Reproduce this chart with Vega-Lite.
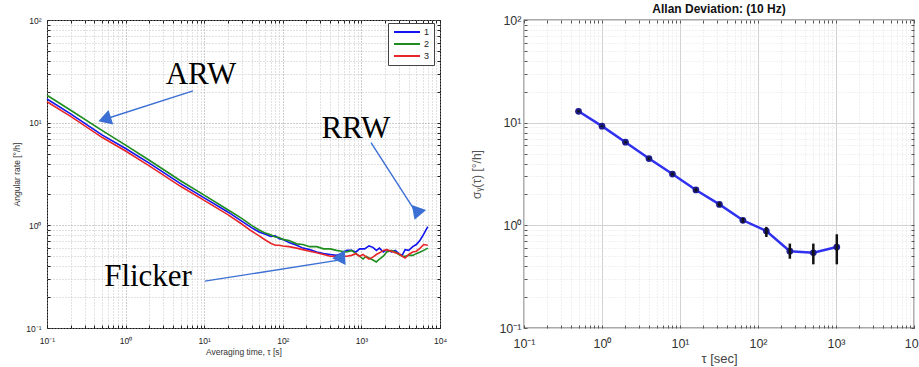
{
  "$schema": "https://vega.github.io/schema/vega-lite/v6.json",
  "background": "white",
  "padding": {"left": 12, "top": 2, "right": 1, "bottom": 0},
  "bounds": "flush",
  "spacing": 84,
  "config": {"font": "Liberation Sans", "view": {"stroke": null}},
  "datasets": {
    "curves": [
      {"tau": 0.1, "v": 17, "s": "1"}, {"tau": 0.2, "v": 12.2, "s": "1"}, {"tau": 0.5, "v": 7.6, "s": "1"}, {"tau": 1, "v": 5.6, "s": "1"}, {"tau": 2, "v": 4.04, "s": "1"}, {"tau": 5, "v": 2.55, "s": "1"}, {"tau": 10, "v": 1.85, "s": "1"}, {"tau": 20, "v": 1.35, "s": "1"}, {"tau": 30, "v": 1.1, "s": "1"}, {"tau": 40, "v": 0.95, "s": "1"}, {"tau": 50, "v": 0.86, "s": "1"}, {"tau": 60, "v": 0.82, "s": "1"}, {"tau": 70, "v": 0.78, "s": "1"}, {"tau": 80, "v": 0.79, "s": "1"}, {"tau": 90, "v": 0.74, "s": "1"}, {"tau": 100, "v": 0.73, "s": "1"}, {"tau": 120, "v": 0.68, "s": "1"}, {"tau": 150, "v": 0.64, "s": "1"}, {"tau": 180, "v": 0.6, "s": "1"}, {"tau": 220, "v": 0.58, "s": "1"}, {"tau": 270, "v": 0.55, "s": "1"}, {"tau": 330, "v": 0.53, "s": "1"}, {"tau": 400, "v": 0.52, "s": "1"}, {"tau": 480, "v": 0.51, "s": "1"}, {"tau": 560, "v": 0.53, "s": "1"}, {"tau": 650, "v": 0.57, "s": "1"}, {"tau": 750, "v": 0.57, "s": "1"}, {"tau": 850, "v": 0.55, "s": "1"}, {"tau": 950, "v": 0.59, "s": "1"}, {"tau": 1100, "v": 0.59, "s": "1"}, {"tau": 1250, "v": 0.63, "s": "1"}, {"tau": 1400, "v": 0.61, "s": "1"}, {"tau": 1550, "v": 0.57, "s": "1"}, {"tau": 1700, "v": 0.6, "s": "1"}, {"tau": 1900, "v": 0.55, "s": "1"}, {"tau": 2100, "v": 0.58, "s": "1"}, {"tau": 2400, "v": 0.55, "s": "1"}, {"tau": 2700, "v": 0.57, "s": "1"}, {"tau": 3000, "v": 0.53, "s": "1"}, {"tau": 3300, "v": 0.51, "s": "1"}, {"tau": 3600, "v": 0.58, "s": "1"}, {"tau": 4000, "v": 0.57, "s": "1"}, {"tau": 4500, "v": 0.62, "s": "1"}, {"tau": 5000, "v": 0.65, "s": "1"}, {"tau": 5600, "v": 0.72, "s": "1"}, {"tau": 6200, "v": 0.82, "s": "1"}, {"tau": 7000, "v": 0.97, "s": "1"},
      {"tau": 0.1, "v": 18.5, "s": "2"}, {"tau": 0.2, "v": 13.2, "s": "2"}, {"tau": 0.5, "v": 8.4, "s": "2"}, {"tau": 1, "v": 6.04, "s": "2"}, {"tau": 2, "v": 4.3, "s": "2"}, {"tau": 5, "v": 2.72, "s": "2"}, {"tau": 10, "v": 1.97, "s": "2"}, {"tau": 20, "v": 1.42, "s": "2"}, {"tau": 30, "v": 1.17, "s": "2"}, {"tau": 40, "v": 1.0, "s": "2"}, {"tau": 50, "v": 0.9, "s": "2"}, {"tau": 60, "v": 0.84, "s": "2"}, {"tau": 70, "v": 0.81, "s": "2"}, {"tau": 80, "v": 0.77, "s": "2"}, {"tau": 90, "v": 0.76, "s": "2"}, {"tau": 100, "v": 0.73, "s": "2"}, {"tau": 120, "v": 0.71, "s": "2"}, {"tau": 150, "v": 0.66, "s": "2"}, {"tau": 180, "v": 0.65, "s": "2"}, {"tau": 220, "v": 0.62, "s": "2"}, {"tau": 270, "v": 0.62, "s": "2"}, {"tau": 330, "v": 0.59, "s": "2"}, {"tau": 400, "v": 0.59, "s": "2"}, {"tau": 480, "v": 0.57, "s": "2"}, {"tau": 560, "v": 0.56, "s": "2"}, {"tau": 650, "v": 0.55, "s": "2"}, {"tau": 750, "v": 0.57, "s": "2"}, {"tau": 850, "v": 0.53, "s": "2"}, {"tau": 950, "v": 0.5, "s": "2"}, {"tau": 1050, "v": 0.47, "s": "2"}, {"tau": 1150, "v": 0.5, "s": "2"}, {"tau": 1250, "v": 0.48, "s": "2"}, {"tau": 1400, "v": 0.46, "s": "2"}, {"tau": 1550, "v": 0.44, "s": "2"}, {"tau": 1700, "v": 0.47, "s": "2"}, {"tau": 1900, "v": 0.5, "s": "2"}, {"tau": 2100, "v": 0.55, "s": "2"}, {"tau": 2400, "v": 0.57, "s": "2"}, {"tau": 2700, "v": 0.55, "s": "2"}, {"tau": 3000, "v": 0.52, "s": "2"}, {"tau": 3300, "v": 0.5, "s": "2"}, {"tau": 3600, "v": 0.5, "s": "2"}, {"tau": 4000, "v": 0.51, "s": "2"}, {"tau": 4500, "v": 0.51, "s": "2"}, {"tau": 5000, "v": 0.53, "s": "2"}, {"tau": 5600, "v": 0.55, "s": "2"}, {"tau": 6200, "v": 0.57, "s": "2"}, {"tau": 7000, "v": 0.6, "s": "2"},
      {"tau": 0.1, "v": 16, "s": "3"}, {"tau": 0.2, "v": 11.5, "s": "3"}, {"tau": 0.5, "v": 7.2, "s": "3"}, {"tau": 1, "v": 5.3, "s": "3"}, {"tau": 2, "v": 3.8, "s": "3"}, {"tau": 5, "v": 2.4, "s": "3"}, {"tau": 10, "v": 1.75, "s": "3"}, {"tau": 20, "v": 1.27, "s": "3"}, {"tau": 30, "v": 1.03, "s": "3"}, {"tau": 40, "v": 0.88, "s": "3"}, {"tau": 50, "v": 0.79, "s": "3"}, {"tau": 60, "v": 0.72, "s": "3"}, {"tau": 70, "v": 0.67, "s": "3"}, {"tau": 80, "v": 0.64, "s": "3"}, {"tau": 90, "v": 0.64, "s": "3"}, {"tau": 100, "v": 0.63, "s": "3"}, {"tau": 120, "v": 0.62, "s": "3"}, {"tau": 150, "v": 0.6, "s": "3"}, {"tau": 180, "v": 0.58, "s": "3"}, {"tau": 220, "v": 0.56, "s": "3"}, {"tau": 270, "v": 0.54, "s": "3"}, {"tau": 330, "v": 0.52, "s": "3"}, {"tau": 400, "v": 0.5, "s": "3"}, {"tau": 480, "v": 0.5, "s": "3"}, {"tau": 560, "v": 0.5, "s": "3"}, {"tau": 650, "v": 0.5, "s": "3"}, {"tau": 750, "v": 0.51, "s": "3"}, {"tau": 850, "v": 0.53, "s": "3"}, {"tau": 950, "v": 0.5, "s": "3"}, {"tau": 1050, "v": 0.52, "s": "3"}, {"tau": 1150, "v": 0.49, "s": "3"}, {"tau": 1250, "v": 0.47, "s": "3"}, {"tau": 1400, "v": 0.49, "s": "3"}, {"tau": 1550, "v": 0.52, "s": "3"}, {"tau": 1700, "v": 0.54, "s": "3"}, {"tau": 1900, "v": 0.57, "s": "3"}, {"tau": 2100, "v": 0.58, "s": "3"}, {"tau": 2400, "v": 0.56, "s": "3"}, {"tau": 2700, "v": 0.54, "s": "3"}, {"tau": 3000, "v": 0.53, "s": "3"}, {"tau": 3300, "v": 0.5, "s": "3"}, {"tau": 3600, "v": 0.48, "s": "3"}, {"tau": 4000, "v": 0.52, "s": "3"}, {"tau": 4500, "v": 0.55, "s": "3"}, {"tau": 5000, "v": 0.56, "s": "3"}, {"tau": 5600, "v": 0.6, "s": "3"}, {"tau": 6200, "v": 0.65, "s": "3"}, {"tau": 7000, "v": 0.64, "s": "3"}
    ],
    "arrows": [
      {"name": "ARW", "x1": 7.2, "y1": 20.4, "x2": 0.541, "y2": 10.8},
      {"name": "RRW", "x1": 1325, "y1": 6.4, "x2": 5060, "y2": 1.3},
      {"name": "Flicker", "x1": 10.2, "y1": 0.286, "x2": 567, "y2": 0.464}
    ],
    "labels": [
      {"label": "ARW", "x": 9.1, "y": 29.3},
      {"label": "RRW", "x": 851, "y": 8.75},
      {"label": "Flicker", "x": 1.93, "y": 0.313}
    ],
    "allan": [
      {"tau": 0.5, "v": 12.9, "lo": 12.6, "hi": 13.2},
      {"tau": 1, "v": 9.25, "lo": 9.1, "hi": 9.4},
      {"tau": 2, "v": 6.45, "lo": 6.3, "hi": 6.6},
      {"tau": 4, "v": 4.47, "lo": 4.35, "hi": 4.6},
      {"tau": 8, "v": 3.16, "lo": 3.06, "hi": 3.26},
      {"tau": 16, "v": 2.21, "lo": 2.13, "hi": 2.29},
      {"tau": 32, "v": 1.6, "lo": 1.53, "hi": 1.67},
      {"tau": 64, "v": 1.12, "lo": 1.06, "hi": 1.18},
      {"tau": 128, "v": 0.88, "lo": 0.77, "hi": 0.966},
      {"tau": 256, "v": 0.56, "lo": 0.473, "hi": 0.664},
      {"tau": 512, "v": 0.54, "lo": 0.417, "hi": 0.664},
      {"tau": 1024, "v": 0.615, "lo": 0.417, "hi": 0.818}
    ]
  },
  "hconcat": [
    {
      "width": 393,
      "height": 308,
      "view": {"stroke": "#111", "strokeWidth": 1},
      "resolve": {"axis": {"x": "independent", "y": "independent"}},
      "layer": [
        {
          "data": {"name": "curves"},
          "mark": {"type": "line", "strokeWidth": 1.6},
          "encoding": {
            "x": {"field": "tau", "type": "quantitative", "scale": {"type": "log", "domain": [0.1, 10000]},
              "axis": {"title": "Averaging time, τ [s]", "titleFontSize": 8.5, "titleFontWeight": "normal", "titleColor": "#333", "titlePadding": 3,
                "values": [0.1,0.2,0.3,0.4,0.5,0.6,0.7,0.8,0.9,1,2,3,4,5,6,7,8,9,10,20,30,40,50,60,70,80,90,100,200,300,400,500,600,700,800,900,1000,2000,3000,4000,5000,6000,7000,8000,9000,10000],
                "labelExpr": "datum.value==0.1?'10⁻¹':datum.value==1?'10⁰':datum.value==10?'10¹':datum.value==100?'10²':datum.value==1000?'10³':datum.value==10000?'10⁴':''",
                "labelFontSize": 8.5, "labelColor": "#222", "labelPadding": 11, "labelOverlap": false, "labelFlush": false,
                "grid": true, "gridDash": [1, 2], "gridColor": {"condition": {"test": "indexof([0.1,1,10,100,1000,10000], datum.value) >= 0", "value": "#999"}, "value": "#c4c4c4"},
                "domain": false, "ticks": true, "tickSize": -3, "tickColor": "#222"}},
            "y": {"field": "v", "type": "quantitative", "scale": {"type": "log", "domain": [0.1, 100]},
              "axis": {"title": "Angular rate [°/h]", "titleFontSize": 8.5, "titleFontWeight": "normal", "titleColor": "#333", "titlePadding": 4,
                "values": [0.1,0.2,0.3,0.4,0.5,0.6,0.7,0.8,0.9,1,2,3,4,5,6,7,8,9,10,20,30,40,50,60,70,80,90,100],
                "labelExpr": "datum.value==0.1?'10⁻¹':datum.value==1?'10⁰':datum.value==10?'10¹':datum.value==100?'10²':''",
                "labelFontSize": 8.5, "labelColor": "#222", "labelPadding": 9, "labelOverlap": false, "labelFlush": false,
                "grid": true, "gridDash": [1, 2], "gridColor": {"condition": {"test": "indexof([0.1,1,10,100], datum.value) >= 0", "value": "#999"}, "value": "#c4c4c4"},
                "domain": false, "ticks": true, "tickSize": -3, "tickColor": "#222"}},
            "color": {"field": "s", "type": "nominal", "scale": {"domain": ["1", "2", "3"], "range": ["#1414f0", "#1e8c1e", "#e8262a"]},
              "legend": {"title": null, "orient": "none", "legendX": 341, "legendY": 3, "strokeColor": "#444", "fillColor": "white", "padding": 4,
                "symbolType": "M-3.25,0H3.25", "symbolSize": 64, "symbolStrokeWidth": 2, "symbolOffset": 10, "labelOffset": 12,
                "labelFontSize": 9, "labelColor": "#222", "rowPadding": 2, "cornerRadius": 0}}
          }
        },
        {
          "data": {"name": "arrows"},
          "mark": {"type": "rule", "color": "#3b6fd4", "strokeWidth": 1.4},
          "encoding": {
            "x": {"field": "x1", "type": "quantitative", "axis": null},
            "y": {"field": "y1", "type": "quantitative", "axis": null},
            "x2": {"field": "x2"},
            "y2": {"field": "y2"}
          }
        },
        {
          "data": {"name": "arrows"},
          "mark": {"type": "point", "shape": "triangle-up", "filled": true, "color": "#3b6fd4", "opacity": 1, "size": 230},
          "encoding": {
            "x": {"field": "x2", "type": "quantitative", "axis": null},
            "y": {"field": "y2", "type": "quantitative", "axis": null},
            "angle": {"field": "name", "type": "nominal", "scale": {"domain": ["ARW", "RRW", "Flicker"], "range": [252, 147, 81]}, "legend": null}
          }
        },
        {
          "data": {"name": "labels"},
          "mark": {"type": "text", "font": "Liberation Serif", "fontSize": 31, "color": "#000", "align": "center", "baseline": "middle"},
          "encoding": {
            "x": {"field": "x", "type": "quantitative",
              "axis": {"orient": "top", "title": null, "labels": false, "grid": false, "domain": false, "ticks": true, "tickSize": -3, "tickColor": "#222",
                "values": [0.1,0.2,0.3,0.4,0.5,0.6,0.7,0.8,0.9,1,2,3,4,5,6,7,8,9,10,20,30,40,50,60,70,80,90,100,200,300,400,500,600,700,800,900,1000,2000,3000,4000,5000,6000,7000,8000,9000,10000]}},
            "y": {"field": "y", "type": "quantitative",
              "axis": {"orient": "right", "title": null, "labels": false, "grid": false, "domain": false, "ticks": true, "tickSize": -3, "tickColor": "#222",
                "values": [0.1,0.2,0.3,0.4,0.5,0.6,0.7,0.8,0.9,1,2,3,4,5,6,7,8,9,10,20,30,40,50,60,70,80,90,100]}},
            "text": {"field": "label"}
          }
        }
      ]
    },
    {
      "width": 390,
      "height": 308,
      "title": {"text": "Allan Deviation:  (10 Hz)", "fontSize": 12, "fontWeight": "bold", "color": "#111", "offset": -2},
      "view": {"stroke": "#555", "strokeWidth": 1.3},
      "resolve": {"axis": {"x": "independent", "y": "independent"}},
      "layer": [
        {
          "data": {"name": "allan"},
          "mark": {"type": "line", "color": "#3030f0", "strokeWidth": 2.5},
          "encoding": {
            "x": {"field": "tau", "type": "quantitative", "scale": {"type": "log", "domain": [0.1, 10000]},
              "axis": {"title": "τ [sec]", "titleFontSize": 13, "titleFontWeight": "normal", "titleColor": "#444", "titlePadding": 3,
                "values": [0.1,0.2,0.3,0.4,0.5,0.6,0.7,0.8,0.9,1,2,3,4,5,6,7,8,9,10,20,30,40,50,60,70,80,90,100,200,300,400,500,600,700,800,900,1000,2000,3000,4000,5000,6000,7000,8000,9000,10000],
                "labelExpr": "datum.value==0.1?'10⁻¹':datum.value==1?'10⁰':datum.value==10?'10¹':datum.value==100?'10²':datum.value==1000?'10³':datum.value==10000?'10⁴':''",
                "labelFontSize": 12.5, "labelColor": "#333", "labelPadding": 12, "labelOverlap": false, "labelFlush": false,
                "grid": true, "gridColor": {"condition": {"test": "indexof([0.1,1,10,100,1000,10000], datum.value) >= 0", "value": "#d2d2d2"}, "value": "#e2e2e2"},
                "gridDash": {"condition": {"test": "indexof([0.1,1,10,100,1000,10000], datum.value) >= 0", "value": []}, "value": [1, 2]},
                "domain": false, "ticks": true, "tickSize": -3, "tickColor": "#555"}},
            "y": {"field": "v", "type": "quantitative", "scale": {"type": "log", "domain": [0.1, 100]},
              "axis": {"title": "σᵧ(τ) [°/h]", "titleFontSize": 12, "titleFontWeight": "normal", "titleColor": "#555", "titlePadding": 15,
                "values": [0.1,0.2,0.3,0.4,0.5,0.6,0.7,0.8,0.9,1,2,3,4,5,6,7,8,9,10,20,30,40,50,60,70,80,90,100],
                "labelExpr": "datum.value==0.1?'10⁻¹':datum.value==1?'10⁰':datum.value==10?'10¹':datum.value==100?'10²':''",
                "labelFontSize": 12.5, "labelColor": "#333", "labelPadding": 6, "labelOverlap": false, "labelFlush": false,
                "grid": true, "gridColor": {"condition": {"test": "indexof([0.1,1,10,100], datum.value) >= 0", "value": "#d2d2d2"}, "value": "#e2e2e2"},
                "gridDash": {"condition": {"test": "indexof([0.1,1,10,100], datum.value) >= 0", "value": []}, "value": [1, 2]},
                "domain": false, "ticks": true, "tickSize": -3, "tickColor": "#555"}}
          }
        },
        {
          "data": {"name": "allan"},
          "mark": {"type": "point", "filled": true, "color": "#1c1c8c", "opacity": 1, "size": 45},
          "encoding": {
            "x": {"field": "tau", "type": "quantitative", "axis": null},
            "y": {"field": "v", "type": "quantitative", "axis": null}
          }
        },
        {
          "data": {"name": "allan"},
          "mark": {"type": "rule", "color": "#111", "strokeWidth": 2.5},
          "encoding": {
            "x": {"field": "tau", "type": "quantitative",
              "axis": {"orient": "top", "title": null, "labels": false, "grid": false, "domain": false, "ticks": true, "tickSize": -3, "tickColor": "#555",
                "values": [0.1,0.2,0.3,0.4,0.5,0.6,0.7,0.8,0.9,1,2,3,4,5,6,7,8,9,10,20,30,40,50,60,70,80,90,100,200,300,400,500,600,700,800,900,1000,2000,3000,4000,5000,6000,7000,8000,9000,10000]}},
            "y": {"field": "lo", "type": "quantitative",
              "axis": {"orient": "right", "title": null, "labels": false, "grid": false, "domain": false, "ticks": true, "tickSize": -3, "tickColor": "#555",
                "values": [0.1,0.2,0.3,0.4,0.5,0.6,0.7,0.8,0.9,1,2,3,4,5,6,7,8,9,10,20,30,40,50,60,70,80,90,100]}},
            "y2": {"field": "hi"}
          }
        }
      ]
    }
  ]
}
